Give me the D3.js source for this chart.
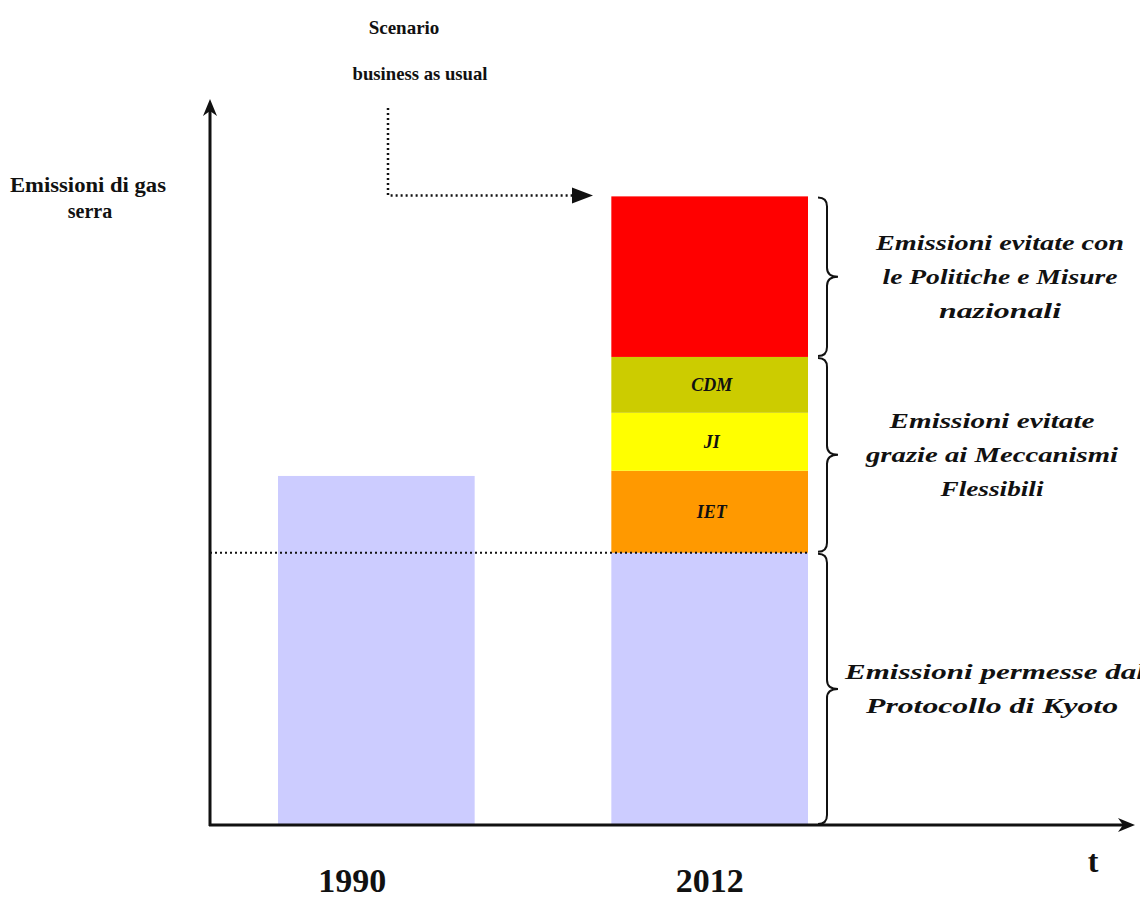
<!DOCTYPE html>
<html>
<head>
<meta charset="utf-8">
<script src="https://cdn.jsdelivr.net/npm/d3@7"></script>
<style>
  html, body { margin: 0; padding: 0; background: #fff; }
  svg { display: block; }
  text { font-family: "Liberation Serif", "DejaVu Serif", serif; fill: #111; }
</style>
</head>
<body>
<svg id="chart" width="1140" height="904"></svg>
<script>
// Years on the time axis
const years = ["1990", "2012"];
// 1990 emissions (index = 100)
const emissions1990 = [100];
// 2012 stacked components, bottom to top
const segmentKeys = ["kyoto", "IET", "JI", "CDM", "national"];
const segmentLabels = ["", "IET", "JI", "CDM", ""];
const segmentValues2012 = [78, 23.5, 16.6, 16, 46];
// Braces: which segments each one groups, and its caption lines
const braceSegments = [[4, 4], [1, 3], [0, 0]];
const braceCaptions = [
  ["Emissioni evitate con", "le Politiche e Misure", "nazionali"],
  ["Emissioni evitate", "grazie ai Meccanismi", "Flessibili"],
  ["Emissioni permesse dal", "Protocollo di Kyoto"]
];
const yAxisTitle = ["Emissioni di gas", "serra"];
const scenarioTitle = ["Scenario", "business as usual"];
const timeLabel = "t";

const svg = d3.select("#chart");

const x = d3.scaleBand().domain(years).range([278, 808]).paddingInner(0.41).paddingOuter(0);
const y = d3.scaleLinear().domain([0, 208]).range([825, 99]);

const color = d3.scaleOrdinal()
  .domain(segmentKeys)
  .range(["#ccccff", "#ff9900", "#ffff00", "#cccc00", "#ff0000"]);

// Stack offsets for 2012
const tops = Array.from(d3.cumsum(segmentValues2012));
const bottoms = tops.map((t, i) => t - segmentValues2012[i]);

// 1990 bar
svg.append("rect")
  .attr("x", x("1990"))
  .attr("width", x.bandwidth())
  .attr("y", y(emissions1990[0]))
  .attr("height", y(0) - y(emissions1990[0]))
  .attr("fill", "#ccccff");

// 2012 stacked bar
svg.selectAll("rect.seg")
  .data(segmentValues2012)
  .join("rect")
  .attr("class", "seg")
  .attr("x", x("2012"))
  .attr("width", x.bandwidth())
  .attr("y", (d, i) => y(tops[i]))
  .attr("height", (d, i) => y(bottoms[i]) - y(tops[i]))
  .attr("fill", (d, i) => color(segmentKeys[i]));

// Labels inside the flexible-mechanism segments
svg.selectAll("text.seglabel")
  .data(segmentLabels)
  .join("text")
  .attr("class", "seglabel")
  .attr("x", x("2012") + x.bandwidth() / 2 + 2)
  .attr("y", (d, i) => (y(tops[i]) + y(bottoms[i])) / 2 + 6)
  .attr("text-anchor", "middle")
  .attr("font-size", 18)
  .attr("font-weight", "bold")
  .attr("font-style", "italic")
  .text(d => d);

// Dotted line at the Kyoto-allowed level
svg.append("line")
  .attr("x1", 210).attr("x2", x("2012") + x.bandwidth())
  .attr("y1", y(segmentValues2012[0])).attr("y2", y(segmentValues2012[0]))
  .attr("stroke", "#111").attr("stroke-width", 2)
  .attr("stroke-dasharray", "2,3");

// Axes with arrow heads
const axisG = svg.append("g");
axisG.append("line")
  .attr("x1", 210).attr("x2", 210)
  .attr("y1", y(0) + 1).attr("y2", y(208) + 10)
  .attr("stroke", "#111").attr("stroke-width", 3);
axisG.append("path")
  .attr("d", `M210,${y(208)} L203,${y(208) + 17} L210,${y(208) + 12} L217,${y(208) + 17} Z`)
  .attr("fill", "#111");
axisG.append("line")
  .attr("x1", 209).attr("x2", 1125)
  .attr("y1", y(0)).attr("y2", y(0))
  .attr("stroke", "#111").attr("stroke-width", 3);
axisG.append("path")
  .attr("d", `M1135,${y(0)} L1118,${y(0) - 7} L1123,${y(0)} L1118,${y(0) + 7} Z`)
  .attr("fill", "#111");

// Year labels below the time axis
const xAxis = d3.axisBottom(x).tickSize(0).tickPadding(0);
const xg = svg.append("g")
  .attr("transform", `translate(0,${y(0)})`)
  .call(xAxis);
xg.select(".domain").remove();
xg.selectAll("text")
  .attr("y", 67)
  .attr("dy", null)
  .attr("dx", (d, i) => i === 0 ? -24 : 0)
  .attr("font-family", "Liberation Serif, serif")
  .attr("font-size", 34)
  .attr("font-weight", "bold")
  .attr("fill", "#111");

svg.append("text")
  .attr("x", 1093).attr("y", 872)
  .attr("text-anchor", "middle")
  .attr("font-size", 32)
  .attr("font-weight", "bold")
  .text(timeLabel);

// Y-axis title
svg.append("text")
  .attr("x", 88).attr("y", 192)
  .attr("text-anchor", "middle")
  .attr("font-size", 20)
  .attr("font-weight", "bold")
  .attr("textLength", 156)
  .attr("lengthAdjust", "spacingAndGlyphs")
  .text(yAxisTitle[0]);
svg.append("text")
  .attr("x", 90).attr("y", 218)
  .attr("text-anchor", "middle")
  .attr("font-size", 20)
  .attr("font-weight", "bold")
  .text(yAxisTitle[1]);

// Business-as-usual scenario title and dotted arrow
svg.append("text")
  .attr("x", 404).attr("y", 34)
  .attr("text-anchor", "middle")
  .attr("font-size", 19)
  .attr("font-weight", "bold")
  .text(scenarioTitle[0]);
svg.append("text")
  .attr("x", 420).attr("y", 80)
  .attr("text-anchor", "middle")
  .attr("font-size", 19)
  .attr("font-weight", "bold")
  .attr("textLength", 135)
  .attr("lengthAdjust", "spacingAndGlyphs")
  .text(scenarioTitle[1]);

const bauY = y(tops[tops.length - 1]) - 1;
svg.append("path")
  .attr("d", `M388,108 L388,${bauY} L574,${bauY}`)
  .attr("fill", "none")
  .attr("stroke", "#111").attr("stroke-width", 2.5)
  .attr("stroke-dasharray", "2,3");
svg.append("path")
  .attr("d", `M593,${bauY} L572,${bauY - 8} L572,${bauY + 8} Z`)
  .attr("fill", "#111");

// Braces with captions to the right of the 2012 bar
const braceX0 = x("2012") + x.bandwidth() + 10;
function bracePath(top, bot) {
  const mid = (top + bot) / 2;
  const xs = braceX0 + 9, xt = braceX0 + 20, r = 9;
  return `M${braceX0},${top} Q${xs},${top} ${xs},${top + r} L${xs},${mid - r} Q${xs},${mid} ${xt},${mid}` +
         ` Q${xs},${mid} ${xs},${mid + r} L${xs},${bot - r} Q${xs},${bot} ${braceX0},${bot}`;
}
const captionCenters = [1000, 992, 992];
const captionWidths = [[248, 235, 122], [205, 252, 103], [300, 252]];
braceSegments.forEach((seg, k) => {
  const top = y(tops[seg[1]]) + 1;
  const bot = y(bottoms[seg[0]]) - 1;
  svg.append("path")
    .attr("d", bracePath(top, bot))
    .attr("fill", "none")
    .attr("stroke", "#111")
    .attr("stroke-width", 2);
  const mid = (top + bot) / 2;
  const lines = braceCaptions[k];
  const lh = 34;
  lines.forEach((t, j) => {
    const ty = mid + (j - (lines.length - 1) / 2) * lh + 7;
    const isLast = k === 2 && j === 0;
    svg.append("text")
      .attr("x", isLast ? 845 : captionCenters[k])
      .attr("y", ty)
      .attr("text-anchor", isLast ? "start" : "middle")
      .attr("font-size", 21)
      .attr("font-weight", "bold")
      .attr("font-style", "italic")
      .attr("textLength", captionWidths[k][j])
      .attr("lengthAdjust", "spacingAndGlyphs")
      .text(t);
  });
});
</script>
</body>
</html>
